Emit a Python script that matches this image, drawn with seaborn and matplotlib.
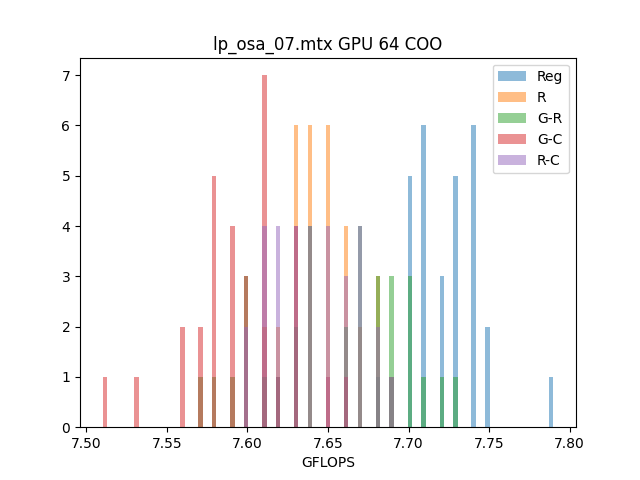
import numpy as np
import pandas as pd
import matplotlib
matplotlib.use("Agg")
import matplotlib.pyplot as plt
import seaborn as sns

# GFLOPS values (rounded to 0.01) and how many runs landed on each
reg_vals = [7.68, 7.69, 7.70, 7.71, 7.72, 7.73, 7.74, 7.75, 7.79]
reg_counts = [1, 1, 5, 6, 3, 5, 6, 2, 1]

r_vals = [7.61, 7.62, 7.63, 7.64, 7.65, 7.66, 7.67, 7.68, 7.69]
r_counts = [2, 2, 6, 6, 6, 4, 2, 3, 1]

gr_vals = [7.57, 7.58, 7.59, 7.60, 7.61, 7.62, 7.63, 7.64, 7.66, 7.67,
           7.68, 7.69, 7.70, 7.71, 7.72, 7.73]
gr_counts = [1, 1, 1, 3, 1, 1, 2, 4, 2, 4, 3, 3, 3, 1, 1, 1]

gc_vals = [7.51, 7.53, 7.56, 7.57, 7.58, 7.59, 7.60, 7.61, 7.62, 7.63,
           7.65, 7.66]
gc_counts = [1, 1, 2, 2, 5, 4, 3, 7, 1, 4, 1, 1]

rc_vals = [7.60, 7.61, 7.62, 7.63, 7.64, 7.65, 7.66, 7.67, 7.68, 7.69]
rc_counts = [2, 4, 4, 4, 4, 4, 3, 4, 2, 1]

labels = ["Reg", "R", "G-R", "G-C", "R-C"]
series = [
    np.repeat(reg_vals, reg_counts),
    np.repeat(r_vals, r_counts),
    np.repeat(gr_vals, gr_counts),
    np.repeat(gc_vals, gc_counts),
    np.repeat(rc_vals, rc_counts),
]

# shared bin edges: 100 edges from overall min to max
all_vals = np.concatenate(series)
edges = np.linspace(all_vals.min(), all_vals.max(), 100)

fig, ax = plt.subplots(figsize=(6.4, 4.8), dpi=100)
for i, (lab, vals) in enumerate(zip(labels, series)):
    df = pd.DataFrame({"GFLOPS": vals})
    sns.histplot(data=df, x="GFLOPS", bins=edges, color=f"C{i}", alpha=0.5,
                 linewidth=0, label=lab, ax=ax)

ax.set_title("lp_osa_07.mtx GPU 64 COO")
ax.set_xlabel("GFLOPS")
ax.set_ylabel("")
ax.legend(loc="upper right")
plt.savefig("out.png", dpi=100)
